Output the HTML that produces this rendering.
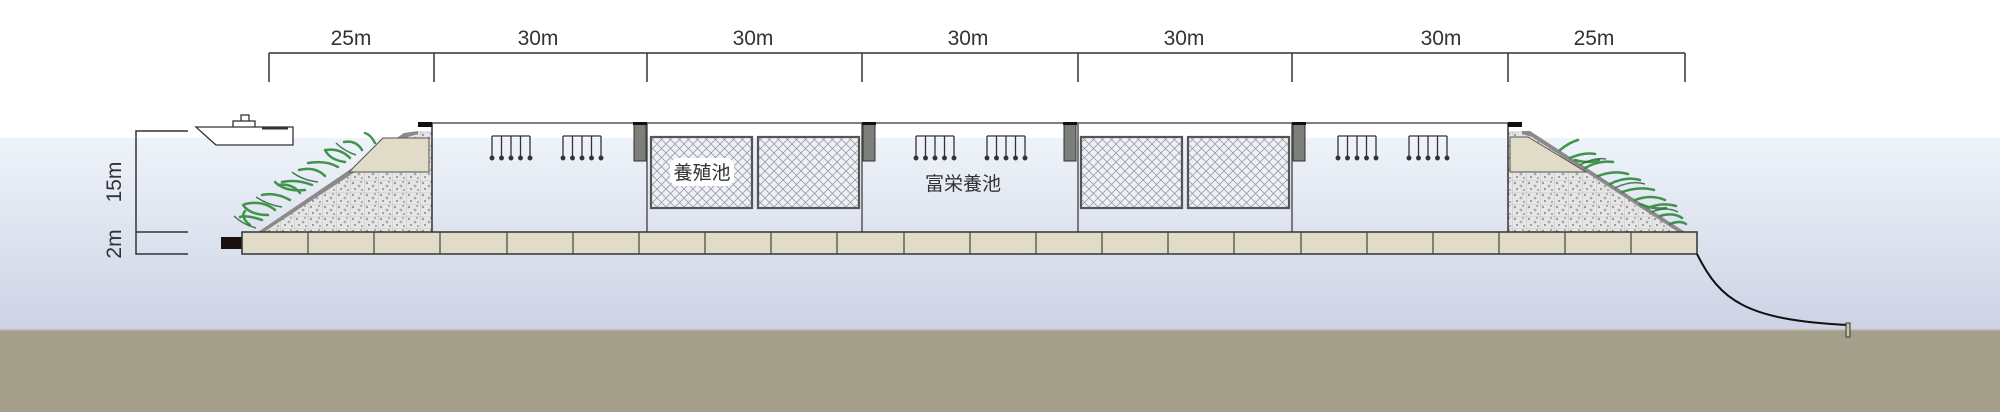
<!DOCTYPE html>
<html><head><meta charset="utf-8"><style>
html,body{margin:0;padding:0;background:#fff;}
svg{display:block;}
text{font-family:"Liberation Sans","Noto Sans CJK JP",sans-serif;fill:#333;}
</style></head><body>
<svg width="2000" height="412" viewBox="0 0 2000 412" xmlns="http://www.w3.org/2000/svg">
<defs>
<linearGradient id="w" x1="0" y1="0" x2="0" y2="1">
<stop offset="0" stop-color="#eef3fa"/><stop offset="1" stop-color="#cdd3e5"/>
</linearGradient>
<pattern id="net" width="9" height="9" patternUnits="userSpaceOnUse">
<rect width="9" height="9" fill="#eef1f6"/>
<path d="M0 0L9 9M9 0L0 9" stroke="#9a9da6" stroke-width="0.8"/>
</pattern>
<pattern id="gab" width="14" height="12" patternUnits="userSpaceOnUse">
<rect width="14" height="12" fill="#e6e6e6"/>
<circle cx="3" cy="3" r="1.2" fill="#999"/><circle cx="9" cy="6" r="1.4" fill="#aaa"/><circle cx="5" cy="9" r="1" fill="#888"/><circle cx="12" cy="10" r="1" fill="#999"/><circle cx="11" cy="2" r="0.9" fill="#888"/>
<path d="M0 0H14M0 0V12" stroke="#aaa" stroke-width="0.6"/>
</pattern>
</defs>
<rect x="0" y="0" width="2000" height="138" fill="#fff"/>
<rect x="0" y="138" width="2000" height="192" fill="url(#w)"/>
<rect x="0" y="330" width="2000" height="82" fill="#a39f8b"/>
<line x1="0" y1="330" x2="2000" y2="330" stroke="#b9b6a6" stroke-width="1.5"/>

<g stroke="#333" stroke-width="1.5" fill="none">
<line x1="269" y1="53" x2="1685" y2="53"/>
<line x1="269" y1="53" x2="269" y2="82"/><line x1="434" y1="53" x2="434" y2="82"/>
<line x1="647" y1="53" x2="647" y2="82"/><line x1="862" y1="53" x2="862" y2="82"/>
<line x1="1078" y1="53" x2="1078" y2="82"/><line x1="1292" y1="53" x2="1292" y2="82"/>
<line x1="1508" y1="53" x2="1508" y2="82"/><line x1="1685" y1="53" x2="1685" y2="82"/>
</g>
<g font-size="21" text-anchor="middle">
<text x="351" y="45">25m</text><text x="538" y="45">30m</text><text x="753" y="45">30m</text>
<text x="968" y="45">30m</text><text x="1184" y="45">30m</text><text x="1441" y="45">30m</text><text x="1594" y="45">25m</text>
</g>

<g stroke="#333" stroke-width="1.5" fill="none">
<polyline points="188,131 136,131 136,254 188,254"/><line x1="136" y1="232" x2="188" y2="232"/>
</g>
<text x="0" y="0" font-size="21" text-anchor="middle" transform="translate(121,182) rotate(-90)">15m</text>
<text x="0" y="0" font-size="21" text-anchor="middle" transform="translate(121,244) rotate(-90)">2m</text>

<g stroke="#333" stroke-width="1.3" fill="#fff">
<rect x="241" y="115" width="8" height="7"/>
<rect x="233" y="121" width="22" height="9"/>
<path d="M196 127H293V145H216Q208 138 196 127Z"/>
</g>
<rect x="262" y="127" width="26" height="2.5" fill="#333"/>

<g stroke="#555" stroke-width="1.5">
<line x1="432" y1="123" x2="1510" y2="123"/>
<line x1="647" y1="123" x2="647" y2="232"/><line x1="862" y1="123" x2="862" y2="232"/>
<line x1="1078" y1="123" x2="1078" y2="232"/><line x1="1292" y1="123" x2="1292" y2="232"/>
</g>
<g fill="#7d7f7a" stroke="#333" stroke-width="1">
<rect x="634" y="123" width="12" height="38"/><rect x="863" y="123" width="12" height="38"/>
<rect x="1064" y="123" width="12" height="38"/><rect x="1293" y="123" width="12" height="38"/>
</g>
<g fill="#111">
<rect x="633" y="122" width="14" height="3"/><rect x="862" y="122" width="14" height="3"/>
<rect x="1063" y="122" width="14" height="3"/><rect x="1292" y="122" width="14" height="3"/>
</g>
<g fill="url(#net)" stroke="#555" stroke-width="2.2">
<rect x="651" y="137" width="101" height="71"/><rect x="758" y="137" width="101" height="71"/>
<rect x="1081" y="137" width="101" height="71"/><rect x="1188" y="137" width="101" height="71"/>
</g>
<rect x="670" y="158" width="64" height="28" rx="8" fill="#fff"/>
<text x="702" y="179" font-size="19" text-anchor="middle">養殖池</text>
<text x="963" y="190" font-size="19" text-anchor="middle">富栄養池</text>

<g stroke="#333" stroke-width="1.3" fill="#333">
<g id="h"><line x1="492" y1="136" x2="530" y2="136"/>
<line x1="492" y1="136" x2="492" y2="158"/><line x1="501.5" y1="136" x2="501.5" y2="158"/><line x1="511" y1="136" x2="511" y2="158"/><line x1="520.5" y1="136" x2="520.5" y2="158"/><line x1="530" y1="136" x2="530" y2="158"/>
<circle cx="492" cy="158" r="1.8"/><circle cx="501.5" cy="158" r="1.8"/><circle cx="511" cy="158" r="1.8"/><circle cx="520.5" cy="158" r="1.8"/><circle cx="530" cy="158" r="1.8"/></g>
<use href="#h" x="71"/><use href="#h" x="424"/><use href="#h" x="495"/><use href="#h" x="846"/><use href="#h" x="917"/>
</g>

<polygon points="258,232 404,133 418,131 432,131 432,232" fill="url(#gab)"/>
<polygon points="258,232 404,133 418,131 418,134 408,137 264,232" fill="#8a8a8a"/>
<polygon points="383,138 429,138 429,172 349,172" fill="#e0dcc8" stroke="#555" stroke-width="1"/>
<line x1="432" y1="123" x2="432" y2="232" stroke="#333" stroke-width="1.5"/>
<rect x="418" y="122" width="14" height="5" fill="#111"/>
<g stroke="#2f8a3a" stroke-width="2.5" fill="none" stroke-linecap="round" opacity="0.9">
<path d="M250 225 q-10 -8 -5 -14"/><path d="M262 220 q-15 -5 -22 -3"/><path d="M275 210 q-12 -10 -30 -6"/>
<path d="M290 200 q-15 -8 -28 -5"/><path d="M300 193 q-8 -10 -22 -8"/><path d="M312 185 q-15 -6 -30 -3"/>
<path d="M325 176 q-10 -10 -26 -6"/><path d="M338 167 q-12 -7 -30 -4"/><path d="M350 158 q-10 -10 -24 -8"/>
<path d="M362 150 q-6 -10 -18 -8"/><path d="M375 143 q-4 -8 -10 -10"/><path d="M268 215 q-18 0 -25 -10"/>
<path d="M305 190 q-20 2 -30 -8"/><path d="M345 162 q-15 -2 -20 -12"/>
</g>
<g stroke="#1f5e2a" stroke-width="1.5" fill="none" opacity="0.8">
<path d="M256 228 q-14 -4 -22 -12"/><path d="M282 207 q-14 -2 -26 -10"/><path d="M318 182 q-16 -2 -26 -10"/><path d="M356 155 q-12 -4 -20 -12"/>
</g>

<polygon points="1685,232 1530,131 1522,131 1508,131 1508,232" fill="url(#gab)"/>
<polygon points="1685,232 1530,131 1522,131 1522,134 1532,137 1678,232" fill="#8a8a8a"/>
<polygon points="1510,137 1528,137 1586,172 1510,172" fill="#e0dcc8" stroke="#555" stroke-width="1"/>
<line x1="1508" y1="123" x2="1508" y2="232" stroke="#333" stroke-width="1.5"/>
<rect x="1508" y="122" width="14" height="5" fill="#111"/>
<g stroke="#2f8a3a" stroke-width="2.5" fill="none" stroke-linecap="round" opacity="0.9">
<path d="M1560 150 q10 -8 18 -10"/><path d="M1570 158 q14 -6 25 -4"/><path d="M1585 168 q14 -8 28 -6"/>
<path d="M1598 176 q16 -6 30 -2"/><path d="M1610 184 q16 -8 30 -4"/><path d="M1622 192 q18 -6 32 -2"/>
<path d="M1635 200 q16 -6 30 0"/><path d="M1648 208 q14 -6 28 -2"/><path d="M1660 216 q14 -4 22 2"/>
<path d="M1670 224 q10 -4 16 0"/><path d="M1575 160 q14 4 24 0"/><path d="M1640 204 q14 6 26 4"/>
</g>
<g stroke="#1f5e2a" stroke-width="1.5" fill="none" opacity="0.8">
<path d="M1580 165 q14 -8 26 -6"/><path d="M1615 188 q16 -8 30 -4"/><path d="M1652 212 q14 -6 26 0"/>
</g>

<rect x="221" y="237" width="22" height="12" fill="#1a1212"/>
<rect x="242" y="232" width="1455" height="22" fill="#e0dcc8" stroke="#333" stroke-width="1.5"/>
<g stroke="#444" stroke-width="1.2">
<line x1="308" y1="232" x2="308" y2="254"/><line x1="374" y1="232" x2="374" y2="254"/><line x1="440" y1="232" x2="440" y2="254"/>
<line x1="507" y1="232" x2="507" y2="254"/><line x1="573" y1="232" x2="573" y2="254"/><line x1="639" y1="232" x2="639" y2="254"/>
<line x1="705" y1="232" x2="705" y2="254"/><line x1="771" y1="232" x2="771" y2="254"/><line x1="837" y1="232" x2="837" y2="254"/>
<line x1="904" y1="232" x2="904" y2="254"/><line x1="970" y1="232" x2="970" y2="254"/><line x1="1036" y1="232" x2="1036" y2="254"/>
<line x1="1102" y1="232" x2="1102" y2="254"/><line x1="1168" y1="232" x2="1168" y2="254"/><line x1="1234" y1="232" x2="1234" y2="254"/>
<line x1="1301" y1="232" x2="1301" y2="254"/><line x1="1367" y1="232" x2="1367" y2="254"/><line x1="1433" y1="232" x2="1433" y2="254"/>
<line x1="1499" y1="232" x2="1499" y2="254"/><line x1="1565" y1="232" x2="1565" y2="254"/><line x1="1631" y1="232" x2="1631" y2="254"/>
</g>

<path d="M1697 254 C1720 300 1745 320 1848 325" stroke="#111" stroke-width="2" fill="none"/>
<rect x="1846" y="323" width="4" height="14" fill="#c9c3a8" stroke="#333" stroke-width="1"/>
</svg>
</body></html>
